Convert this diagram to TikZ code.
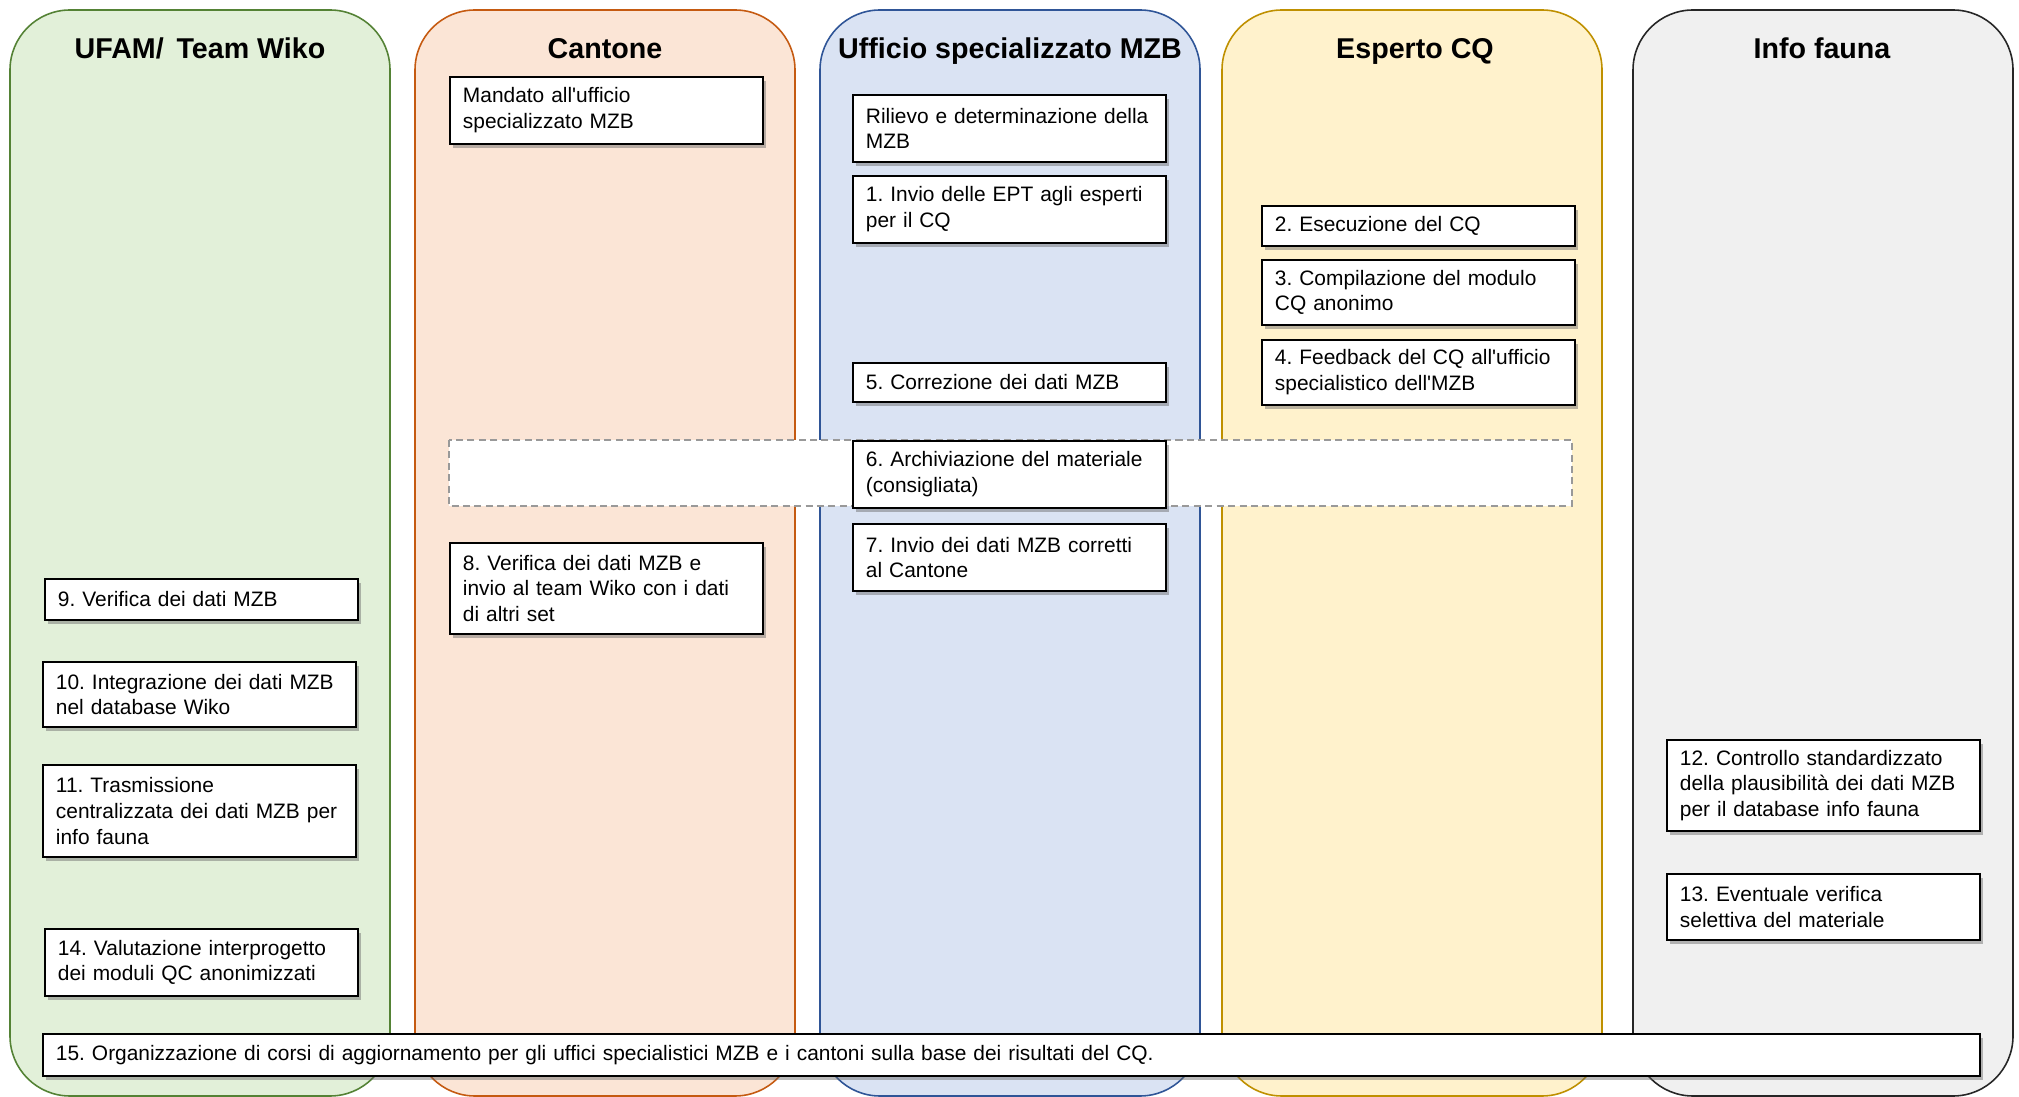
\documentclass[tikz,border=0pt]{standalone}
\usepackage{fontspec}
\setmainfont{Liberation Sans}
\usetikzlibrary{shadows}
\definecolor{greenF}{HTML}{E2F0D9}
\definecolor{greenD}{HTML}{548235}
\definecolor{orangeF}{HTML}{FBE5D6}
\definecolor{orangeD}{HTML}{C55A11}
\definecolor{blueF}{HTML}{DAE3F3}
\definecolor{blueD}{HTML}{2F5597}
\definecolor{yellowF}{HTML}{FFF2CC}
\definecolor{yellowD}{HTML}{BF9000}
\definecolor{greyF}{HTML}{F0F0F0}
\definecolor{greyD}{HTML}{262626}
\tikzset{
  lane/.style={rounded corners=1.2cm,line width=0.9pt},
  lanetitle/.style={anchor=base,font=\fontsize{16.3}{19}\selectfont\bfseries},
  task/.style={draw=black,fill=white,line width=1.1pt,anchor=north west,align=left,
    text width=5.74cm,inner xsep=0.26cm,inner ysep=0pt,font=\fontsize{11.9}{14.7}\selectfont,
    drop shadow={shadow xshift=2pt,shadow yshift=-2.5pt,fill=black!60,opacity=0.45}},
  optional/.style={draw=black!40,fill=white,dash pattern=on 4pt off 2.5pt,line width=0.8pt}
}
\frenchspacing

\begin{document}
\begin{tikzpicture}[x=0.02cm,y=-0.02cm]
\useasboundingbox (0,0) rectangle (2019,1097);
\foreach \x/\c in {10/green,415/orange,820/blue,1222/yellow,1633/grey}
  \draw[lane,draw=\c D,fill=\c F] (\x,10) rectangle ++(380,1086);
\node[lanetitle] (Ufam) at (200,59) {UFAM/\ \,Team Wiko};
\node[lanetitle] (Cant) at (605,59) {Cantone};
\node[lanetitle] (Uff) at (1010,59) {Ufficio specializzato MZB};
\node[lanetitle] (Esp) at (1415,59) {Esperto CQ};
\node[lanetitle] (Info) at (1822,59) {Info fauna};
\draw[optional] (449,440) rectangle (1572,506);
\node[task,minimum height=1.34cm] (Mand) at (449,76) {Mandato all\textquotesingle ufficio\\specializzato MZB};
\node[task,minimum height=1.82cm] (S8) at (449,542) {8. Verifica dei dati MZB e\\invio al team Wiko con i dati\\di altri set};
\node[task,minimum height=1.34cm] (Ril) at (852,94) {Rilievo e determinazione della\\MZB};
\node[task,minimum height=1.34cm] (S1) at (852,175) {1. Invio delle EPT agli esperti\\per il CQ};
\node[task,minimum height=0.78cm] (S5) at (852,362) {5. Correzione dei dati MZB};
\node[task,minimum height=1.34cm] (S6) at (852,440) {6. Archiviazione del materiale\\(consigliata)};
\node[task,minimum height=1.34cm] (S7) at (852,523) {7. Invio dei dati MZB corretti\\al Cantone};
\node[task,minimum height=0.8cm] (S2) at (1261,205) {2. Esecuzione del CQ};
\node[task,minimum height=1.3cm] (S3) at (1261,259) {3. Compilazione del modulo\\CQ anonimo};
\node[task,minimum height=1.3cm] (S4) at (1261,339) {4. Feedback del CQ all\textquotesingle ufficio\\specialistico dell\textquotesingle MZB};
\node[task,minimum height=0.82cm] (S9) at (44,578) {9. Verifica dei dati MZB};
\node[task,minimum height=1.3cm] (S10) at (42,661) {10. Integrazione dei dati MZB\\nel database Wiko};
\node[task,minimum height=1.84cm] (S11) at (42,764) {11. Trasmissione\\centralizzata dei dati MZB per\\info fauna};
\node[task,minimum height=1.34cm] (S14) at (44,928) {14. Valutazione interprogetto\\dei moduli QC anonimizzati};
\node[task,minimum height=1.82cm] (S12) at (1666,739) {12. Controllo standardizzato\\della plausibilità dei dati MZB\\per il database info fauna};
\node[task,minimum height=1.32cm] (S13) at (1666,873) {13. Eventuale verifica\\selettiva del materiale};
\node[task,minimum height=0.84cm,text width=38.22cm] (S15) at (42,1033) {15. Organizzazione di corsi di aggiornamento per gli uffici specialistici MZB e i cantoni sulla base dei risultati del CQ.};
\end{tikzpicture}
\end{document}
